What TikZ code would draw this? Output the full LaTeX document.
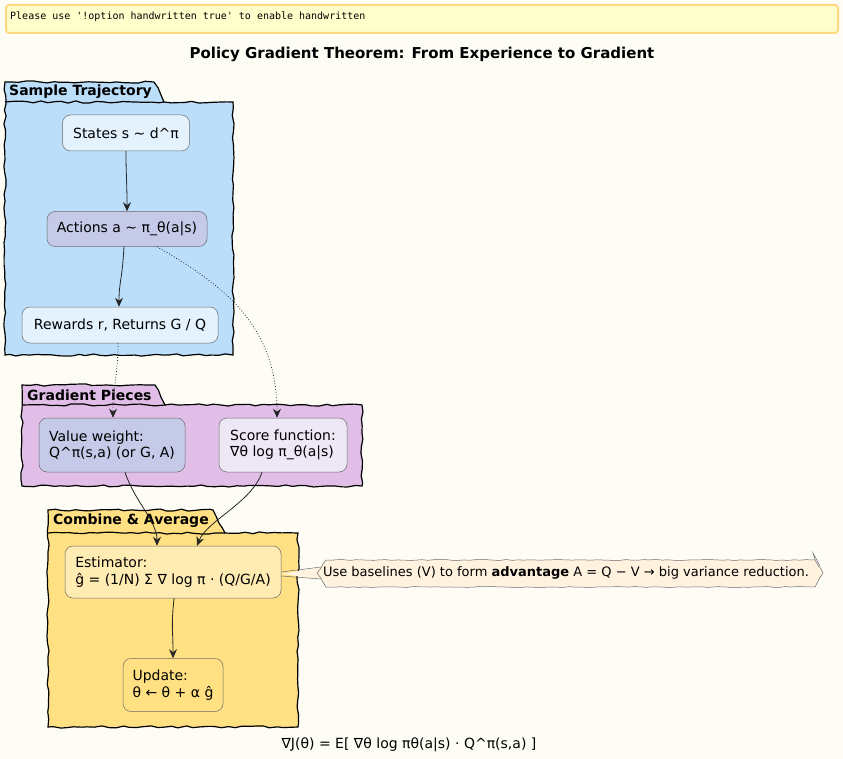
\documentclass[tikz,border=0pt]{standalone}
\usepackage{fontspec}
\setmainfont{DejaVu Sans}
\newfontfamily\monofont{DejaVu Sans Mono}
\usetikzlibrary{arrows.meta,decorations.pathmorphing}
\definecolor{bgc}{HTML}{FEFDF5}
\definecolor{warnfill}{HTML}{FFFFCC}
\definecolor{warnline}{HTML}{FFD980}
\definecolor{pkgA}{HTML}{BBDEFB}
\definecolor{nodeA}{HTML}{E3F2FD}
\definecolor{nodeB}{HTML}{C5CAE9}
\definecolor{pkgB}{HTML}{E1BEE7}
\definecolor{nodeC}{HTML}{EDE7F6}
\definecolor{pkgC}{HTML}{FFE082}
\definecolor{nodeD}{HTML}{FFECB3}
\definecolor{notec}{HTML}{FFF3E0}
\definecolor{nodeline}{HTML}{6A6A6A}
\tikzset{
  pkgshape/.style={draw=black, line width=1.2pt, decorate,
    decoration={random steps, segment length=7pt, amplitude=1.1pt}},
  pkglabel/.style={anchor=west, inner sep=0pt, font=\bfseries\fontsize{14}{16}\selectfont},
  actbox/.style={draw=nodeline, line width=0.5pt, rounded corners=8pt,
    inner sep=0pt, align=left, font=\fontsize{14}{16.5}\selectfont},
  flow/.style={draw=black!85, line width=0.8pt, -{Stealth[length=9pt,width=8pt,inset=3pt]}},
  dotflow/.style={draw=black!85, line width=0.8pt, dotted, -{Stealth[length=9pt,width=8pt,inset=3pt]}}
}
\begin{document}
\begin{tikzpicture}[x=1pt,y=-1pt]
\pgfmathsetseed{7}
\fill[bgc] (0,0) rectangle (843,759);
\useasboundingbox (0,0) rectangle (843,759);

% warning
\node[draw=warnline, line width=2pt, fill=warnfill, rounded corners=3pt,
  minimum width=832pt, minimum height=28pt, inner sep=0pt, anchor=north west] (warn) at (5,4) {};
\node[anchor=west, inner sep=0pt, font=\monofont\fontsize{10}{12}\selectfont] (warntext) at (10,17)
  {Please use '!option handwritten true' to enable handwritten};

% title
\node[font=\bfseries\fontsize{15}{18}\selectfont, inner sep=0pt] (title) at (422,54)
  {Policy Gradient Theorem: From Experience to Gradient};

% package 1
\fill[pkgA] (5,355) -- (5,82) -- (154,82) -- (164,102) -- (233,102) -- (233,355) -- cycle;
\draw[pkgshape] (5,355) -- (5,82) -- (154,82) -- (164,102) -- (233,102) -- (233,355) -- cycle;
\draw[pkgshape] (5,102) -- (164,102);
\node[pkglabel] (lblA) at (9,92) {Sample Trajectory};

% package 2
\fill[pkgB] (22,486) -- (22,385) -- (155,385) -- (165,405) -- (362,405) -- (362,486) -- cycle;
\draw[pkgshape] (22,486) -- (22,385) -- (155,385) -- (165,405) -- (362,405) -- (362,486) -- cycle;
\draw[pkgshape] (22,405) -- (165,405);
\node[pkglabel] (lblB) at (27,395) {Gradient Pieces};

% package 3
\fill[pkgC] (48,727) -- (48,510) -- (213,510) -- (225,533) -- (298,533) -- (298,727) -- cycle;
\draw[pkgshape] (48,727) -- (48,510) -- (213,510) -- (225,533) -- (298,533) -- (298,727) -- cycle;
\draw[pkgshape] (48,533) -- (225,533);
\node[pkglabel] (lblC) at (53,521) {Combine \& Average};

% nodes
\node[actbox, fill=nodeA, minimum width=127pt, minimum height=36pt] (states) at (126,133) {States s \textasciitilde{} d\textasciicircum π};
\node[actbox, fill=nodeB, minimum width=160pt, minimum height=35pt] (actions) at (127,229) {Actions a \textasciitilde{} π\_θ(a|s)};
\node[actbox, fill=nodeA, minimum width=196pt, minimum height=36pt] (rewards) at (120,325) {Rewards r, Returns G / Q};
\node[actbox, fill=nodeB, minimum width=146pt, minimum height=54pt] (value) at (112,445) {Value weight:\\Q\textasciicircum π(s,a) (or G, A)};
\node[actbox, fill=nodeC, minimum width=128pt, minimum height=54pt] (score) at (283,445) {Score function:\\∇θ log π\_θ(a|s)};
\node[actbox, fill=nodeD, minimum width=216pt, minimum height=52pt] (est) at (173,572) {Estimator:\\ĝ = (1/N) Σ ∇ log π · (Q/G/A)};
\node[actbox, fill=pkgC, minimum width=100pt, minimum height=53pt] (upd) at (173,685) {Update:\\θ ← θ + α ĝ};

% connectors
\draw[flow] (states.south) .. controls +(0,25) and +(0,-30) .. (actions.north);
\draw[flow] ([xshift=-3pt]actions.south) .. controls +(-2,35) and +(0,-25) .. ([xshift=-1pt]rewards.north);
\draw[dotflow] ([xshift=30pt]actions.south) .. controls +(70,40) and +(0,-90) .. ([xshift=-6pt]score.north);
\draw[dotflow] ([xshift=-2pt]rewards.south) .. controls +(0,30) and +(0,-30) .. ([xshift=1pt]value.north);
\draw[flow] ([xshift=13pt]value.south) .. controls +(10,30) and +(0,-25) .. ([xshift=-16pt]est.north);
\draw[flow] ([xshift=-21pt]score.south) .. controls +(-10,30) and +(10,-25) .. ([xshift=24pt]est.north);
\draw[flow] ([xshift=1pt]est.south) .. controls +(-3,30) and +(0,-30) .. (upd.north);

% note
\coordinate (tipL) at (317,573);
\fill[notec] (est.east |- 0,574) -- (321,567) -- (321,579) -- cycle;
\draw[nodeline, line width=0.5pt] (est.east |- 0,572) -- (321,567);
\draw[nodeline, line width=0.5pt] (est.east |- 0,576) -- (321,579);
\draw[fill=notec, draw=nodeline, line width=0.5pt, decorate,
  decoration={random steps, segment length=6pt, amplitude=0.5pt}]
  (tipL) -- (326,560) -- (815,560) -- (823,573) -- (815,587) -- (326,587) -- cycle;
\draw[nodeline, line width=0.5pt] (815,560) -- (813,553) -- (820,566);
\node[inner sep=0pt, font=\fontsize{13}{15}\selectfont] (note) at (566,573)
  {Use baselines (V) to form \textbf{advantage} A = Q − V → big variance reduction.};

% caption
\node[inner sep=0pt, font=\fontsize{14}{16}\selectfont] (caption) at (409,745)
  {∇J(θ) = E[ ∇θ log πθ(a|s) · Q\textasciicircum π(s,a) ]};
\end{tikzpicture}
\end{document}
